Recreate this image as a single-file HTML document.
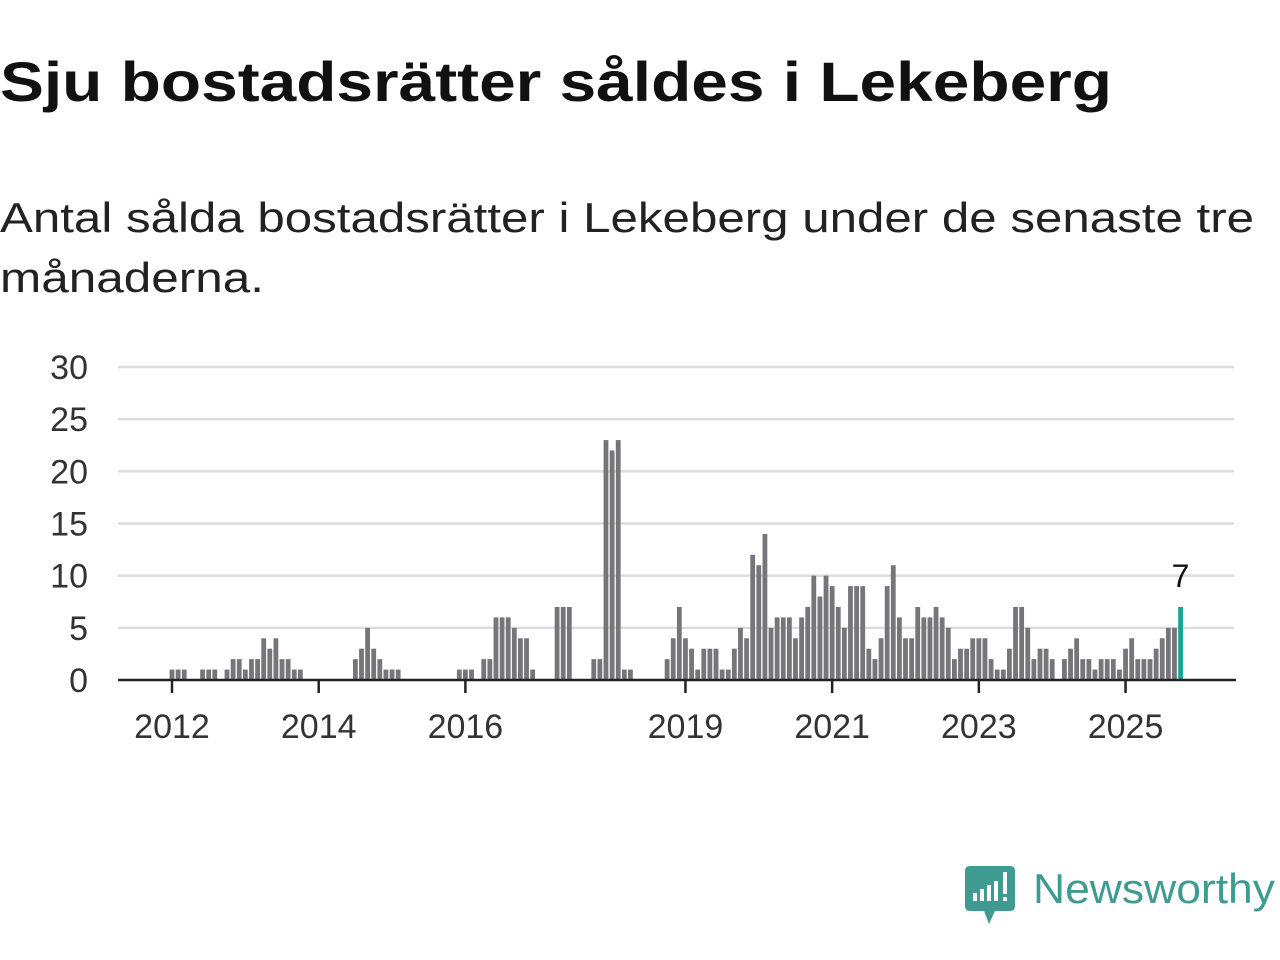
<!DOCTYPE html>
<html><head><meta charset="utf-8"><style>
html,body{margin:0;padding:0;background:#fff;}
svg{display:block;font-family:"Liberation Sans",sans-serif;}
</style></head><body>
<svg id="chart" width="1280" height="960" viewBox="0 0 1280 960" xmlns="http://www.w3.org/2000/svg">
<text x="0" y="101" font-size="56" font-weight="bold" fill="#111" textLength="1112" lengthAdjust="spacingAndGlyphs">Sju bostadsrätter såldes i Lekeberg</text>
<text font-size="42" fill="#222"><tspan x="0" y="232" textLength="1254" lengthAdjust="spacingAndGlyphs">Antal sålda bostadsrätter i Lekeberg under de senaste tre</tspan><tspan x="0" y="292" textLength="264" lengthAdjust="spacingAndGlyphs">månaderna.</tspan></text>
<g id="grid"></g>
<g id="bars"></g>
<g id="axis"></g>
<g>
<path d="M970 866 H1010 Q1015 866 1015 871 V906 Q1015 911 1010 911 H995 L989 924 L984 911 H970 Q965 911 965 906 V871 Q965 866 970 866 Z" fill="#3f9b92"/>
<rect x="973" y="893" width="4" height="8" fill="#fff"/><rect x="980" y="889" width="4" height="12" fill="#fff"/><rect x="987" y="885" width="4" height="16" fill="#fff"/><rect x="994" y="881" width="4" height="20" fill="#fff"/><rect x="1003" y="872" width="4" height="22" fill="#fff"/><rect x="1003" y="897" width="4" height="4" fill="#fff"/>
<text x="1033" y="903" font-size="42" fill="#3f9b92" textLength="242" lengthAdjust="spacingAndGlyphs">Newsworthy</text>
</g>
</svg>
<script>
const values = [
1,1,1,0,0,1,1,1,0,1,2,2,
1,2,2,4,3,4,2,2,1,1,0,0,
0,0,0,0,0,0,2,3,5,3,2,1,
1,1,0,0,0,0,0,0,0,0,0,1,
1,1,0,2,2,6,6,6,5,4,4,1,
0,0,0,7,7,7,0,0,0,2,2,23,
22,23,1,1,0,0,0,0,0,2,4,7,
4,3,1,3,3,3,1,1,3,5,4,12,
11,14,5,6,6,6,4,6,7,10,8,10,
9,7,5,9,9,9,3,2,4,9,11,6,
4,4,7,6,6,7,6,5,2,3,3,4,
4,4,2,1,1,3,7,7,5,2,3,3,
2,0,2,3,4,2,2,1,2,2,2,1,
3,4,2,2,2,3,4,5,5,7];
const startYear = 2012;
const yTicks = [0,5,10,15,20,25,30];
const xTickYears = [2012,2014,2016,2019,2021,2023,2025];
const NS="http://www.w3.org/2000/svg";
const x0=172, step=6.1125, y0=680, yMax=30, yTop=367;
function xS(i){return x0+i*step;}
function yS(v){return y0-(v/yMax)*(y0-yTop);}
function mk(tag,attrs,parent){const e=document.createElementNS(NS,tag);for(const k in attrs)e.setAttribute(k,attrs[k]);parent.appendChild(e);return e;}
const grid=document.getElementById('grid'),bars=document.getElementById('bars'),axis=document.getElementById('axis');
yTicks.forEach(t=>{
  if(t>0){const l=mk('line',{x1:118,x2:1234,y1:yS(t),y2:yS(t),stroke:'#dcdcdc','stroke-width':2.5},grid);
  
  }
  const tx=mk('text',{x:88,y:yS(t)+12,'font-size':34,fill:'#333','text-anchor':'end'},grid);
  tx.textContent=t;
  
  
});
const last=values.length-1;
values.forEach((v,i)=>{
  if(v<=0)return;
  const r=mk('rect',{x:xS(i)-2.4,y:yS(v),width:4.8,height:y0-yS(v),fill:i===last?'#1aa394':'#76767a'},bars);
  
  
});
const lv=mk('text',{x:xS(last),y:yS(values[last])-20,'font-size':32,fill:'#111','text-anchor':'middle'},bars);
lv.textContent=values[last];


const al=mk('line',{x1:118,x2:1236,y1:y0,y2:y0,stroke:'#222','stroke-width':2.5},axis);


xTickYears.forEach(yr=>{
  const i=(yr-startYear)*12;
  const tk=mk('line',{x1:xS(i),x2:xS(i),y1:y0,y2:y0+13,stroke:'#222','stroke-width':2.5},axis);
  
  
  const tx=mk('text',{x:xS(i),y:738,'font-size':34,fill:'#333','text-anchor':'middle'},axis);
  tx.textContent=yr;
  
  
});
</script>
</body></html>
